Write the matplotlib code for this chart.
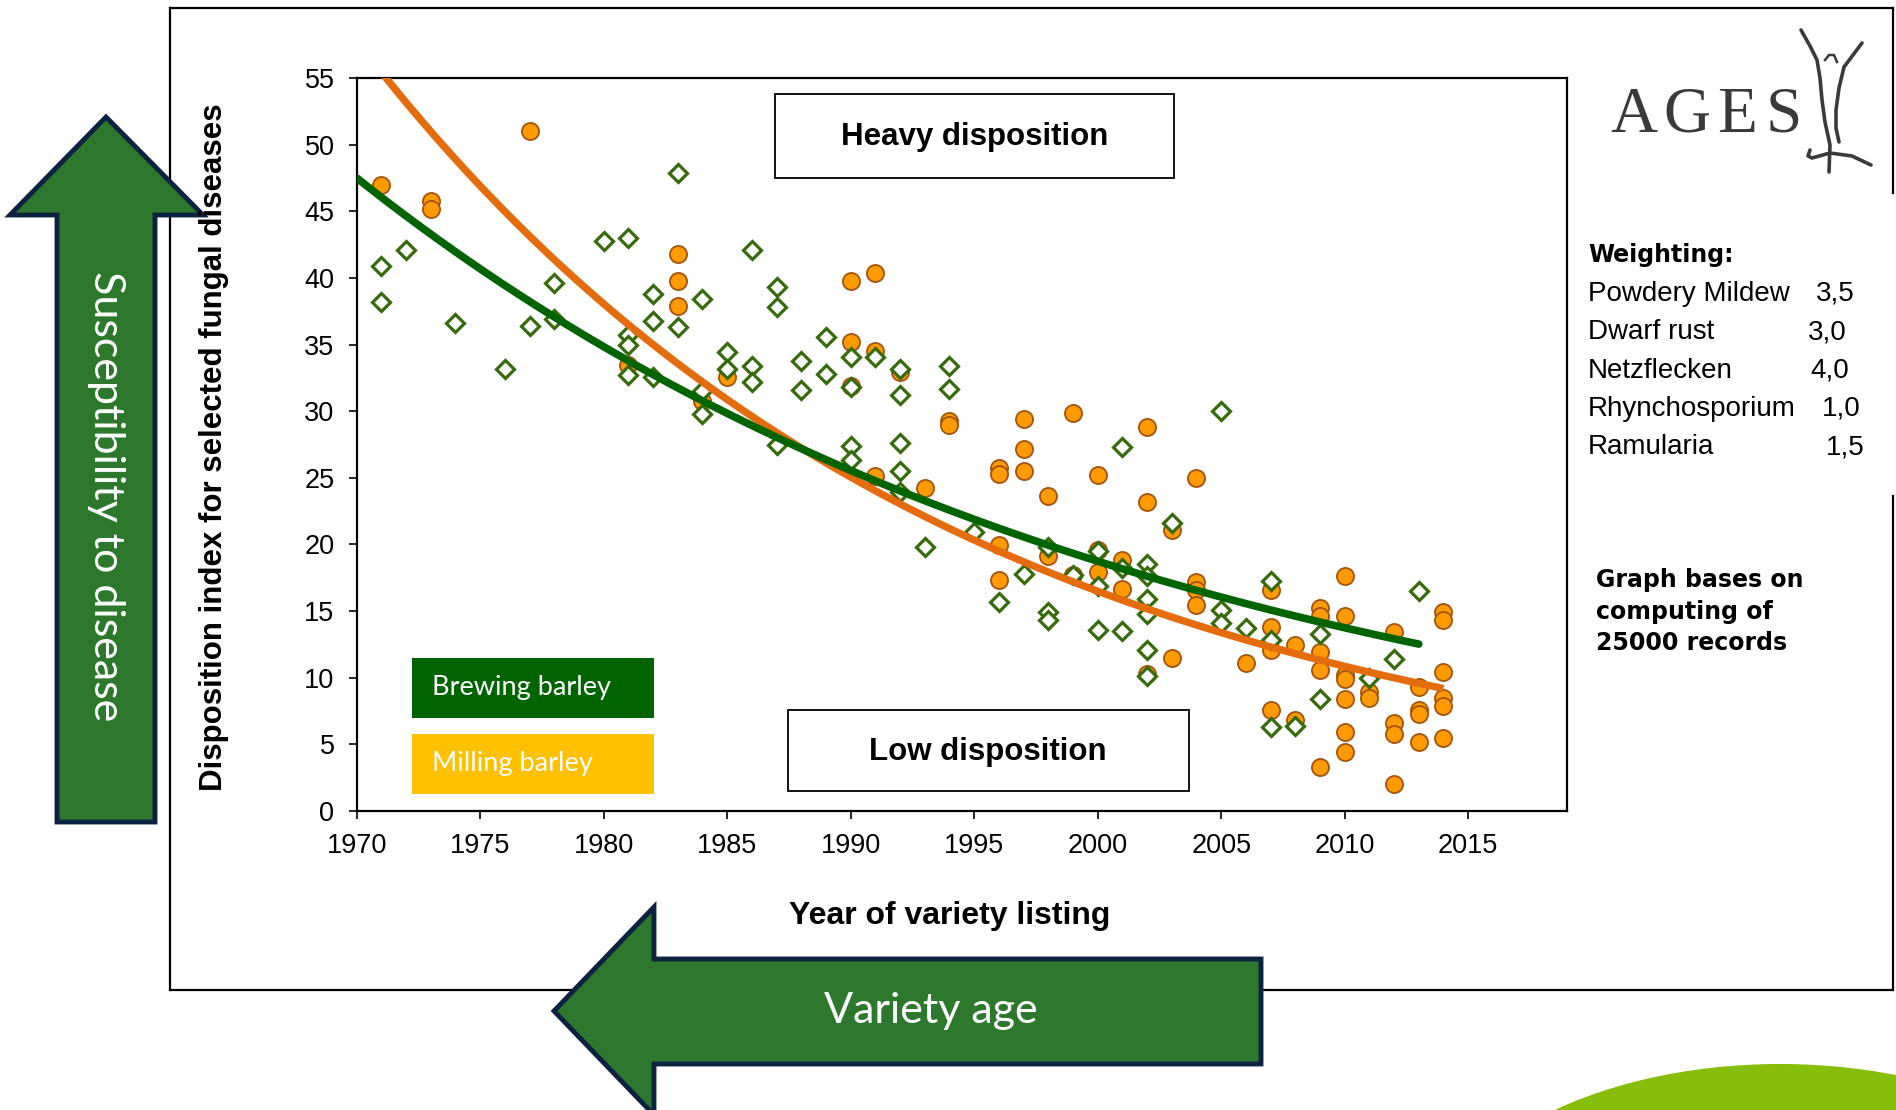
import numpy as np
import matplotlib
matplotlib.use("Agg")
import matplotlib.pyplot as plt
import matplotlib.patches as patches

plt.rcParams['font.family'] = ['Liberation Sans', 'DejaVu Sans']

# Brewing barley (green diamonds)
brewing_years = [1971, 1971, 1972, 1974, 1976, 1977, 1978, 1978, 1980,
                 1981, 1981, 1981, 1981, 1982, 1982, 1982, 1983, 1983,
                 1984, 1984, 1984, 1985, 1985, 1986, 1986, 1986,
                 1987, 1987, 1987, 1988, 1988, 1989, 1989,
                 1990, 1990, 1990, 1990, 1991, 1992, 1992, 1992, 1992, 1992,
                 1993, 1994, 1994, 1995, 1996, 1997, 1998, 1998, 1998, 1999,
                 2000, 2000, 2000, 2001, 2001, 2001,
                 2002, 2002, 2002, 2002, 2002, 2002, 2003,
                 2005, 2005, 2005, 2006, 2007, 2007, 2007, 2008,
                 2009, 2009, 2011, 2012, 2013]
brewing_values = [40.9, 38.2, 42.1, 36.6, 33.2, 36.4, 39.65, 36.9, 42.8,
                  43.0, 35.75, 34.95, 32.7, 38.8, 36.8, 32.6, 47.9, 36.3,
                  38.4, 31.5, 29.8, 34.45, 33.2, 42.1, 33.4, 32.2,
                  39.3, 37.8, 27.5, 33.75, 31.6, 35.6, 32.8,
                  34.1, 31.8, 27.4, 26.3, 34.1, 33.2, 31.25, 27.6, 25.5, 23.95,
                  19.8, 33.4, 31.7, 20.95, 15.7, 17.75, 19.8, 14.95, 14.3, 17.7,
                  19.5, 16.9, 13.6, 27.3, 18.2, 13.5,
                  18.5, 17.6, 15.9, 14.8, 12.1, 10.1, 21.6,
                  30.0, 15.1, 14.1, 13.7, 17.25, 12.8, 6.3, 6.4,
                  13.3, 8.4, 10.0, 11.4, 16.5]

# Milling barley (orange circles)
milling_years = [1971, 1973, 1973, 1977, 1981, 1983, 1983, 1983, 1984, 1985,
                 1990, 1990, 1990, 1991, 1991, 1991, 1992, 1993, 1994, 1994,
                 1996, 1996, 1996, 1996, 1997, 1997, 1997, 1998, 1998,
                 1999, 1999, 2000, 2000, 2000, 2001, 2001, 2002, 2002, 2002,
                 2003, 2003, 2004, 2004, 2004, 2004, 2006,
                 2007, 2007, 2007, 2007, 2008, 2008,
                 2009, 2009, 2009, 2009, 2009,
                 2010, 2010, 2010, 2010, 2010, 2010, 2010, 2011, 2011,
                 2012, 2012, 2012, 2012, 2013, 2013, 2013, 2013,
                 2014, 2014, 2014, 2014, 2014, 2014]
milling_values = [47.0, 45.8, 45.2, 51.0, 33.45, 41.8, 39.8, 37.9, 30.8, 32.6,
                  39.8, 35.2, 31.9, 40.4, 34.5, 25.1, 32.95, 24.25, 29.3, 29.0,
                  25.7, 25.3, 19.95, 17.3, 29.4, 27.15, 25.5, 23.65, 19.1,
                  29.9, 17.7, 25.2, 19.6, 17.9, 18.8, 16.65, 28.8, 23.15, 10.3,
                  21.1, 11.5, 25.0, 17.2, 16.6, 15.45, 11.1,
                  16.6, 13.8, 12.1, 7.6, 12.45, 6.8,
                  15.2, 14.65, 11.95, 10.6, 3.3,
                  17.65, 14.65, 10.2, 9.9, 8.4, 5.95, 4.45, 8.95, 8.45,
                  13.4, 6.6, 5.8, 2.0, 9.3, 7.6, 7.3, 5.2,
                  14.95, 14.3, 10.4, 8.45, 7.9, 5.45]

# exponential trendlines: value = a * exp(-k * (year - 1970))
brewing_trend = {'a': 47.5, 'k': 0.031, 'start': 1970, 'end': 2013}
milling_trend = {'a': 57.8, 'k': 0.0418, 'start': 1970, 'end': 2014}

x_ticks = list(range(1970, 2016, 5))
y_ticks = list(range(0, 56, 5))

weighting_names = ['Powdery Mildew', 'Dwarf rust', 'Netzflecken', 'Rhynchosporium', 'Ramularia']
weighting_values = ['3,5', '3,0', '4,0', '1,0', '1,5']
note_lines = ['Graph bases on', 'computing of', '25000 records']

W, H = 1896, 1110
fig = plt.figure(figsize=(W / 100, H / 100), dpi=100)

# background layer in pixel coordinates
bg = fig.add_axes([0, 0, 1, 1], zorder=0)
bg.set_xlim(0, W)
bg.set_ylim(H, 0)
bg.axis('off')

bg.add_patch(patches.Ellipse((1780, 1264), 706, 400, color='#87BE0A', lw=0))
frame_kw = dict(color='black', lw=1.6, solid_capstyle='projecting')
bg.plot([170, 1893], [8, 8], **frame_kw)
bg.plot([170, 170], [8, 990], **frame_kw)
bg.plot([170, 1893], [990, 990], **frame_kw)
bg.plot([1893, 1893], [8, 193], **frame_kw)
bg.plot([1893, 1893], [496, 990], **frame_kw)

# main chart
ax = fig.add_axes([356.7 / W, 1 - 811 / H, (1567 - 356.7) / W, (811 - 78) / H], zorder=2)
ax.set_xlim(1970, 2019)
ax.set_ylim(0, 55)
ax.set_xticks(x_ticks)
ax.set_yticks(y_ticks)
ax.tick_params(direction='out', length=6, width=1.2, labelsize=19.5, pad=10)
for s in ax.spines.values():
    s.set_linewidth(1.6)

ax.plot(milling_years, milling_values, 'o', ms=12.3, mfc='#FF9A00', mec='#A5520A',
        mew=1.3, ls='none', zorder=3)
ax.plot(brewing_years, brewing_values, 'D', ms=9.5, mfc='white', mec='#376A0B',
        mew=2.3, ls='none', zorder=4)

for tr, col, lw, cap in [(milling_trend, '#E46C0A', 5.3, 'butt'),
                         (brewing_trend, '#006400', 5.5, 'round')]:
    xs = np.linspace(tr['start'], tr['end'], 200)
    ax.plot(xs, tr['a'] * np.exp(-tr['k'] * (xs - 1970)), color=col, lw=lw,
            solid_capstyle=cap, zorder=5)

# foreground layer for boxes, arrows and notes
fg = fig.add_axes([0, 0, 1, 1], zorder=3)
fg.set_xlim(0, W)
fg.set_ylim(H, 0)
fg.axis('off')
fg.patch.set_alpha(0)

fg.text(214, 447, 'Disposition index for selected fungal diseases', rotation=90,
        ha='center', va='center', fontsize=22.5, fontweight='bold')
fg.text(950, 916, 'Year of variety listing', ha='center', va='center',
        fontsize=23, fontweight='bold')

fg.add_patch(patches.Rectangle((775, 94), 399, 84, fc='white', ec='black', lw=1.3))
fg.text(975, 137, 'Heavy disposition', ha='center', va='center', fontsize=22.5, fontweight='bold')
fg.add_patch(patches.Rectangle((788, 710), 401, 81, fc='white', ec='black', lw=1.3))
fg.text(988, 752, 'Low disposition', ha='center', va='center', fontsize=22.5, fontweight='bold')

fg.add_patch(patches.Rectangle((412, 658), 242, 60, fc='#006400', lw=0))
fg.text(432, 688, 'Brewing barley', ha='left', va='center', color='white',
        fontsize=19.5, family='Lato')
fg.add_patch(patches.Rectangle((412, 734), 242, 60, fc='#FFC000', lw=0))
fg.text(432, 764, 'Milling barley', ha='left', va='center', color='white',
        fontsize=19.5, family='Lato')

# arrows
arrow_kw = dict(closed=True, fc='#2E782E', ec='#0D2240', lw=3.5, joinstyle='miter')
fg.add_patch(patches.Polygon([(57, 822), (57, 215), (10, 215), (106, 117),
                              (203, 215), (155, 215), (155, 822)], **arrow_kw))
fg.text(106, 496, 'Susceptibility to disease', rotation=-90, ha='center', va='center',
        color='white', fontsize=31, family='Lato')
fg.add_patch(patches.Polygon([(1261, 959), (654, 959), (654, 907), (554, 1011),
                              (654, 1115), (654, 1064), (1261, 1064)], **arrow_kw))
fg.text(931, 1011, 'Variety age', ha='center', va='center', color='white',
        fontsize=31, family='Lato')

# weighting notes
fg.text(1588, 255, 'Weighting:', ha='left', va='center', fontsize=17,
        fontweight='bold', family='DejaVu Sans')
value_x = [1816, 1808, 1810, 1822, 1826]
for i, (name, val) in enumerate(zip(weighting_names, weighting_values)):
    y = 294 + i * 38.3
    fg.text(1588, y, name, ha='left', va='center', fontsize=20)
    fg.text(value_x[i], y, val, ha='left', va='center', fontsize=20)

for i, line in enumerate(note_lines):
    fg.text(1596, 580 + i * 31.5, line, ha='left', va='center', fontsize=17,
            fontweight='bold', family='DejaVu Sans')

# AGES logo
for letter, lx in zip('AGES', [1610, 1663, 1717, 1766]):
    fg.text(lx, 132, letter, ha='left', va='baseline', fontsize=47,
            family='Liberation Serif', color='#3A3A3A')
logo_kw = dict(color='#3A3A3A', lw=2.6, solid_capstyle='round')
fg.plot([1801, 1810, 1817, 1820, 1822, 1825, 1830, 1829],
        [30, 46, 60, 78, 100, 122, 145, 172], **logo_kw)
fg.plot([1862, 1853, 1844, 1839, 1836, 1836, 1839],
        [43, 55, 67, 88, 110, 128, 142], **logo_kw)
fg.plot([1825, 1829, 1834, 1837], [60, 55, 55, 62], color='#3A3A3A', lw=1.8)
fg.plot([1810, 1808, 1812, 1830, 1852, 1871],
        [150, 156, 158, 153, 156, 165], **logo_kw)

fig.savefig('out.png', dpi=100)
